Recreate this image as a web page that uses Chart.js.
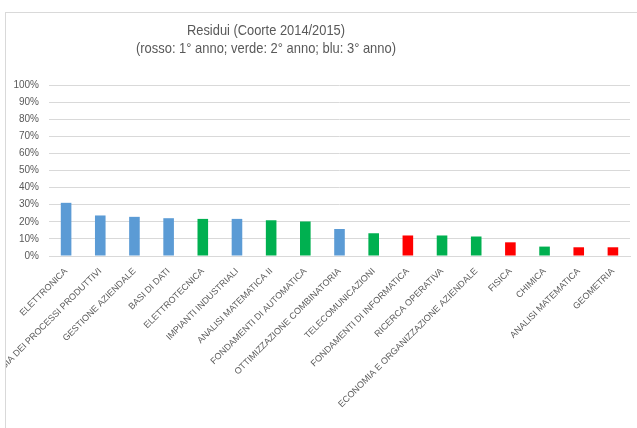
<!DOCTYPE html>
<html>
<head>
<meta charset="utf-8">
<script src="https://cdn.jsdelivr.net/npm/chart.js@4/dist/chart.umd.min.js"></script>
<style>
  html, body { margin: 0; padding: 0; background: #fff; overflow: hidden; }
  #frame {
    position: absolute; left: 5px; top: 12px;
    width: 700px; height: 500px;
    border: 1px solid #d9d9d9;
    overflow: hidden;
  }
  #wrap { position: absolute; left: 0; top: 0; width: 631px; height: 415px; }
</style>
</head>
<body>
<div id="frame"><div id="wrap"><canvas id="barChart1"></canvas></div></div>
<script>
const materie = [
  "ELETTRONICA",
  "TECNOLOGIA DEI PROCESSI PRODUTTIVI",
  "GESTIONE AZIENDALE",
  "BASI DI DATI",
  "ELETTROTECNICA",
  "IMPIANTI INDUSTRIALI",
  "ANALISI MATEMATICA II",
  "FONDAMENTI DI AUTOMATICA",
  "OTTIMIZZAZIONE COMBINATORIA",
  "TELECOMUNICAZIONI",
  "FONDAMENTI DI INFORMATICA",
  "RICERCA OPERATIVA",
  "ECONOMIA E ORGANIZZAZIONE AZIENDALE",
  "FISICA",
  "CHIMICA",
  "ANALISI MATEMATICA",
  "GEOMETRIA",
];
const residui = [0.311, 0.237, 0.229, 0.221, 0.217, 0.217, 0.209, 0.202, 0.158,
  0.133, 0.12, 0.12, 0.114, 0.08, 0.055, 0.051, 0.051];
// anno di corso: 1 rosso, 2 verde, 3 blu
const anno = [3, 3, 3, 3, 2, 3, 2, 2, 3, 2, 1, 2, 2, 1, 2, 1, 1];
const coloriAnno = { 1: "#ff0000", 2: "#00b050", 3: "#5b9bd5" };
const titolo = ["Residui (Coorte 2014/2015)", "(rosso: 1\u00b0 anno; verde: 2\u00b0 anno; blu: 3\u00b0 anno)"];

const titlePlugin = {
  id: "titoloExcel",
  afterDraw(chart) {
    const ctx = chart.ctx;
    ctx.save();
    ctx.fillStyle = "#595959";
    ctx.font = "15px 'Liberation Sans'";
    ctx.textAlign = "center";
    ctx.textBaseline = "middle";
    ctx.fillText(titolo[0], 260, 18, 158);
    ctx.fillText(titolo[1], 260, 36, 260);
    ctx.restore();
  },
};

new Chart(document.getElementById("barChart1"), {
  type: "bar",
  data: {
    labels: materie,
    datasets: [
      {
        label: "Residui",
        data: residui,
        backgroundColor: anno.map((a) => coloriAnno[a]),
        barPercentage: 0.31,
        categoryPercentage: 1,
      },
    ],
  },
  options: {
    responsive: true,
    maintainAspectRatio: false,
    animation: false,
    layout: { padding: { top: 72, right: 7, left: 0, bottom: 0 } },
    plugins: {
      legend: { display: false },
      title: { display: false },
      tooltip: { enabled: false },
    },
    scales: {
      x: {
        grid: { display: false, drawTicks: false },
        border: { color: "#d9d9d9" },
        ticks: {
          autoSkip: false,
          maxRotation: 45,
          minRotation: 45,
          padding: 10,
          color: "#595959",
          font: { family: "'Liberation Sans'", size: 9 },
        },
        afterFit(scale) {
          scale.height = 172;
        },
      },
      y: {
        min: 0,
        max: 1,
        grid: { color: "#d9d9d9", drawTicks: false },
        border: { display: false },
        ticks: {
          stepSize: 0.1,
          padding: 10,
          color: "#595959",
          font: { family: "'Liberation Sans'", size: 10 },
          callback: (v) => Math.round(v * 100) + "%",
        },
        afterFit(scale) {
          scale.width = 43;
        },
      },
    },
  },
  plugins: [titlePlugin],
});
</script>
</body>
</html>
